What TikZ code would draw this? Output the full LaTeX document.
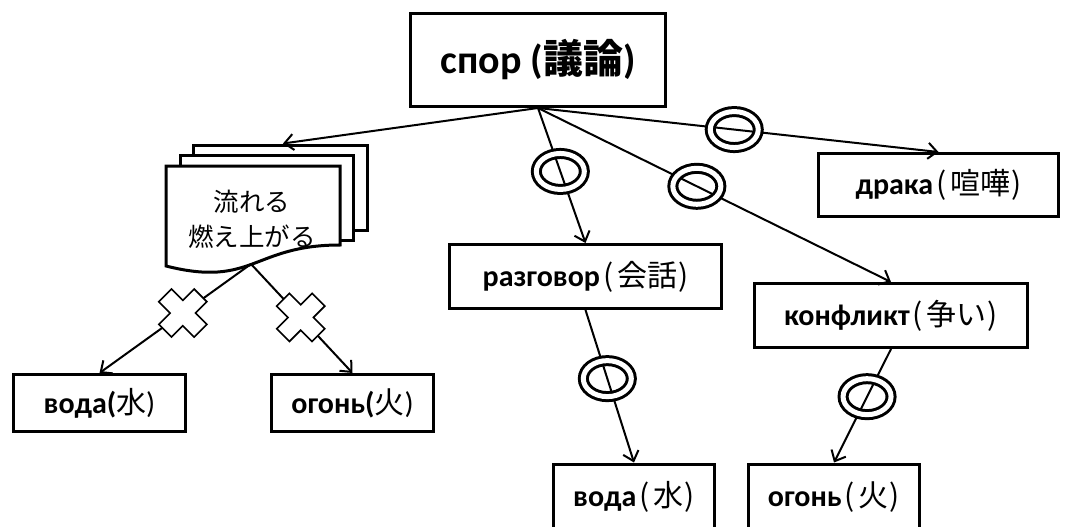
\documentclass[tikz,border=0pt]{standalone}
\usepackage{fontspec}
\setmainfont{Carlito}
\newfontfamily\jpdoc{Noto Sans CJK JP}
\usetikzlibrary{arrows.meta,shapes.geometric}
% Japanese gloss in brackets after a Russian word
\newcommand\jparen[1]{{\jpdoc\hspace{3pt}(\hspace{4pt}#1\hspace{1pt})}}
\tikzset{
  box/.style={draw, line width=3pt, fill=white, inner sep=0pt,
    font=\fontsize{30}{34}\selectfont},
  conn/.style={line width=2pt, -{Straight Barb[length=9pt,width=16pt]}},
  ring/.style={ellipse, draw, line width=3pt, double=white,
    double distance=5pt, minimum width=48pt, minimum height=36pt, inner sep=0pt},
  page/.style={draw, line width=3pt, fill=white, line join=miter},
  xmark/.pic={\draw[fill=white, line width=1.6pt, rotate=45]
    (9,9) -- (25,9) -- (25,-9) -- (9,-9) -- (9,-25) -- (-9,-25) -- (-9,-9)
    -- (-25,-9) -- (-25,9) -- (-9,9) -- (-9,25) -- (9,25) -- cycle;}
}
\begin{document}
\begin{tikzpicture}[x=1pt,y=-1pt]
\fill[white] (0,0) rectangle (1068,527);
\clip (0,0) rectangle (1068,527);

% stack of documents
\draw[page] (193,145) rectangle (367,230);
\draw[page] (180,155) rectangle (353,240);
\draw[page] (166,166) -- (340,166) -- (340,245)
  .. controls (253,245) and (253,288) .. (166,266) -- cycle;
\node[font=\jpdoc\fontsize{25.5}{35}\selectfont, align=center] (doctext) at (252,219)
  {流れる\\燃え上がる};
\coordinate (doctop) at (283,143.5);
\coordinate (docbot) at (251,264);

% boxes
\node[box, minimum width=255pt, minimum height=93pt] (spor) at (538,60)
  {\fontsize{40}{48}\selectfont\textbf{спор (}{\jpdoc\bfseries 議論}\textbf{)}};
\node[box, minimum width=240pt, minimum height=63pt] (draka) at (938.5,185)
  {\textbf{драка}\jparen{喧嘩}};
\node[box, minimum width=272pt, minimum height=64pt] (razg) at (585.5,276.5)
  {\textbf{разговор}\jparen{会話}};
\node[box, minimum width=273pt, minimum height=64pt] (konf) at (891,315.5)
  {\textbf{конфликт}\jparen{争い}};
\node[box, minimum width=172pt, minimum height=57pt] (vodaL) at (99.5,403)
  {\textbf{вода(}{\jpdoc 水})};
\node[box, minimum width=162pt, minimum height=57pt] (ogonL) at (352.5,403)
  {\textbf{огонь(}{\jpdoc 火})};
\node[box, minimum width=161pt, minimum height=66pt] (vodaB) at (634,497)
  {\textbf{вода}\jparen{水}};
\node[box, minimum width=171pt, minimum height=66pt] (ogonB) at (834,497)
  {\textbf{огонь}\jparen{火}};

% connectors
\draw[conn] (spor.south) -- (doctop);
\draw[conn] (spor.south) -- node[ring, pos=0.47] {} (razg.north);
\draw[conn] (spor.south) -- node[ring, pos=0.45] {} (konf.north);
\draw[conn] (spor.south) -- node[ring, pos=0.49] {} (draka.north);
\draw[conn] (razg.south) -- node[ring, pos=0.45] {} (vodaB.north);
\draw[conn] (konf.south) -- node[ring, pos=0.42] {} (ogonB.north);
\draw[conn] (docbot) -- coordinate[pos=0.45] (xa) (vodaL.north);
\draw[conn] (docbot) -- coordinate[pos=0.49] (xb) (ogonL.north);
\pic at (xa) {xmark};
\pic at (xb) {xmark};
\end{tikzpicture}
\end{document}
